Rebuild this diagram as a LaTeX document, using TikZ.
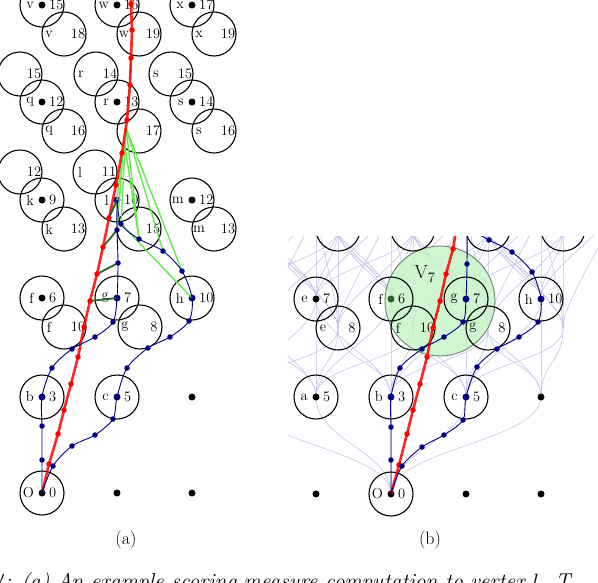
\documentclass[tikz,border=0pt]{standalone}
\usetikzlibrary{calc}
\definecolor{navy}{RGB}{0,0,128}
\definecolor{dkgreen}{RGB}{40,100,40}
\definecolor{ltgreen}{RGB}{100,235,80}
\definecolor{vfill}{RGB}{200,245,200}
\definecolor{vedge}{RGB}{110,130,110}
\definecolor{faint}{RGB}{195,195,235}
\tikzset{
 bigc/.style={circle,draw=black,line width=1.1pt,minimum size=44pt,inner sep=0pt},
 ctr/.style={circle,draw=none,inner sep=0pt,minimum size=7pt},
 lbl/.style={font=\fontsize{14.5}{14.5}\selectfont,inner sep=0pt,text=black},
 bd/.style={circle,fill=navy,inner sep=0pt,minimum size=5.5pt},
 rd/.style={circle,fill=red,inner sep=0pt,minimum size=5.5pt},
 bpath/.style={draw=navy,line width=0.9pt},
 rpath/.style={draw=red,line width=2.6pt,draw opacity=0.85},
 gpath/.style={draw=ltgreen,line width=1.4pt},
 dgpath/.style={draw=dkgreen,line width=1.8pt},
 faintl/.style={draw=faint,line width=0.6pt},
 paneltxt/.style={font=\fontsize{18}{18}\selectfont,inner sep=0pt}
}
\newcommand\vtx[6]{%
  \node[bigc] (#1C) at (#2,#3) {};
  \node[ctr,fill=#6] (#1) at (#2,#3) {};
  \node[lbl,anchor=east] (#1L) at ($(#1)+(-8,0)$) {#4};
  \node[lbl,anchor=west] (#1N) at ($(#1)+(7,0)$) {#5};
}
\newcommand\subc[5]{%
  \node[bigc] (#1) at (#2,#3) {};
  \node[lbl] (#1L) at ($(#1)+(-15,0)$) {#4};
  \node[lbl] (#1N) at ($(#1)+(14,0)$) {#5};
}
\begin{document}
\begin{tikzpicture}[x=1pt,y=-1pt]
\useasboundingbox (0,0) rectangle (598,582);

% ================= panel (a) =================
\vtx{aO}{42}{493}{O}{0}{black}
\node[ctr,fill=black] (aP1) at (117,493) {};
\node[ctr,fill=black] (aP2) at (192,493) {};
\vtx{ab}{42}{397}{b}{3}{navy}
\vtx{ac}{117}{397}{c}{5}{navy}
\node[ctr,fill=black] (aP3) at (192,397) {};
\vtx{af}{42}{298}{f}{6}{black}
\vtx{ag}{117}{298}{g}{7}{navy}
\vtx{ah}{192}{298}{h}{10}{navy}
\vtx{ak}{42}{200}{k}{9}{black}
\vtx{al}{117}{200}{l}{10}{navy}
\vtx{am}{192}{200}{m}{12}{black}
\vtx{aq}{42}{102}{q}{12}{black}
\vtx{ar}{117}{102}{r}{13}{black}
\vtx{as}{192}{102}{s}{14}{black}
\vtx{av}{42}{5}{v}{15}{black}
\vtx{aw}{117}{5}{w}{16}{black}
\vtx{ax}{192}{5}{x}{17}{black}
% down-right circles
\subc{afd}{64}{327}{f}{10}
\subc{agd}{140}{327}{g}{8}
\subc{akd}{64}{229}{k}{13}
\subc{ald}{139}{229}{}{15}
\subc{amd}{214}{229}{m}{13}
\subc{aqd}{64}{131}{q}{16}
\subc{ard}{139}{131}{}{17}
\subc{asd}{214}{131}{s}{16}
\subc{avd}{64}{34}{v}{18}
\subc{awd}{139}{34}{w}{19}
\subc{axd}{214}{34}{x}{19}
% up-left circles
\subc{aku}{20}{172}{}{12}
\subc{alu}{95}{172}{l}{11}
\subc{aqu}{20}{74}{}{15}
\subc{aru}{96}{74}{r}{14}
\subc{asu}{171}{74}{s}{15}

% red path points (a)
\coordinate (ar1) at (49,464);
\coordinate (ar2) at (58,434);
\coordinate (ar3) at (64,410);
\coordinate (ar4) at (71,384);
\coordinate (ar5) at (78,357);
\coordinate (ar6) at (84,327);
\coordinate (ar7) at (90,301);
\coordinate (ar8) at (97,274);
\coordinate (ar9) at (103,247);
\coordinate (ar10) at (109,218);
\coordinate (ar11) at (116,185);
\coordinate (ar12) at (122,153);
\coordinate (ar13) at (127,120);
\coordinate (ar14) at (130,85);
\coordinate (ar15) at (131,58);
\coordinate (ar16) at (132,30);
\coordinate (ar17) at (131,4);
\coordinate (arend) at (131,-6);
% blue path points (a)
\coordinate (p1a) at (42,460);
\coordinate (p1b) at (42,426);
\coordinate (p1c) at (52,368);
\coordinate (p1d) at (72,349);
\coordinate (p1e) at (95,337);
\coordinate (p1f) at (113,322);
\coordinate (p1g) at (118,263);
\coordinate (p1h) at (117,230);
\coordinate (p2a) at (53,466);
\coordinate (p2b) at (72,446);
\coordinate (p2c) at (95,435);
\coordinate (p2d) at (113,419);
\coordinate (p2e) at (127,368);
\coordinate (p2f) at (148,348);
\coordinate (p2g) at (170,337);
\coordinate (p2h) at (189,321);
\coordinate (p2i) at (182,271);
\coordinate (p2j) at (163,251);
\coordinate (p2k) at (139,239);
\coordinate (p2l) at (121,224);
\coordinate (gA) at (126,128);
\coordinate (gB) at (124,140);

% light green lines
\draw[gpath] (ar15) -- (ar13) -- (gA);
\draw[gpath] (gA) -- (p2k);
\draw[gpath] (gA) -- (p2j);
\draw[gpath] (gA) -- (p2i);
\draw[gpath] (gB) -- (p2k);
\draw[gpath] (gB) -- (al.center);
\draw[gpath] (gA) -- (p2l) -- (ah.center);
\draw[gpath] (gB) -- (p1h);

% red path
\draw[rpath] (aO.center) -- (ar1) -- (ar2) -- (ar3) -- (ar4) -- (ar5) -- (ar6) -- (ar7) -- (ar8) -- (ar9) -- (ar10) -- (ar11) -- (ar12) -- (ar13) -- (ar14) -- (ar15) -- (ar16) -- (ar17) -- (arend);

% dark green links
\draw[dgpath] (al.center) -- (ar10);
\draw[dgpath] (p1h) -- (ar9);
\draw[dgpath] (p1g) -- (ar8);
\draw[dgpath] (ag.center) -- (ar7);

% blue paths
\draw[bpath] plot[smooth,tension=0.5] coordinates {(aO.center) (p1a) (p1b) (ab.center) (p1c) (p1d) (p1e) (p1f) (ag.center) (p1g) (p1h) (al.center)};
\draw[bpath] plot[smooth,tension=0.5] coordinates {(aO.center) (p2a) (p2b) (p2c) (p2d) (ac.center) (p2e) (p2f) (p2g) (p2h) (ah.center) (p2i) (p2j) (p2k) (p2l) (al.center)};

% dots
\foreach \i in {1,...,17} \node[rd] (ardot\i) at (ar\i) {};
\foreach \c in {p1a,p1b,p1c,p1d,p1e,p1f,p1g,p1h,p2a,p2b,p2c,p2d,p2e,p2f,p2g,p2h,p2i,p2j,p2k,p2l}
  \node[bd] (d\c) at (\c) {};

\node[paneltxt] (capa) at (126,540) {(a)};

% ================= panel (b) =================
\begin{scope}
\clip (288,236) rectangle (598,530);
% faint web of all edges
\foreach \xa/\ya in {241/397,316/397,391/397,466/397,541/397}{
  \draw[faintl] (391,494) .. controls (391,450) and (\xa,441) .. (\xa,\ya);
}
\foreach \xa/\ya in {241/397,316/397,391/397,466/397,541/397}{
  \foreach \xb/\yb in {241/299,316/299,391/299,466/299,541/299,263/328,338/328,413/328,488/328,563/328}{
    \pgfmathtruncatemacro\ok{abs(\xa-\xb)<110}
    \ifnum\ok=1 \draw[faintl] (\xa,\ya) .. controls (\xa,\ya-35) and (\xb,\yb+35) .. (\xb,\yb);\fi
  }}
\foreach \xa/\ya in {241/299,316/299,391/299,466/299,541/299,263/328,338/328,413/328,488/328,563/328}{
  \foreach \xb/\yb in {241/200,316/200,391/200,466/200,541/200,616/200,263/229,338/229,413/229,488/229,563/229}{
    \pgfmathtruncatemacro\ok{abs(\xa-\xb)<110}
    \ifnum\ok=1 \draw[faintl] (\xa,\ya) .. controls (\xa,\ya-30) and (\xb,\yb+30) .. (\xb,\yb);\fi
  }}
% V7 region
\node[circle,fill=vfill,fill opacity=0.85,draw=vedge,line width=0.9pt,minimum size=110pt,inner sep=0pt] (V7) at (440,301) {};
\node[font=\fontsize{19}{19}\selectfont,inner sep=0pt] (V7L) at (425,274) {V$_7$};

\vtx{bO}{391}{494}{O}{0}{black}
\node[ctr,fill=black] (bP1) at (316,494) {};
\node[ctr,fill=black] (bP2) at (466,494) {};
\node[ctr,fill=black] (bP3) at (541,494) {};
\vtx{ba}{316}{397}{a}{5}{black}
\vtx{bb}{391}{397}{b}{3}{navy}
\vtx{bc}{466}{397}{c}{5}{navy}
\node[ctr,fill=black] (bP4) at (541,397) {};
\vtx{be}{316}{299}{e}{7}{black}
\vtx{bf}{391}{299}{f}{6}{dkgreen}
\vtx{bg}{466}{299}{g}{7}{navy}
\vtx{bh}{541}{299}{h}{10}{navy}
\subc{bed}{338}{328}{e}{8}
\subc{bfd}{413}{328}{f}{10}
\subc{bgd}{488}{328}{g}{8}
\node[bigc] (bt1) at (338,229) {};
\node[bigc] (bt2) at (413,229) {};
\node[bigc] (bt3) at (488,229) {};
\node[bigc] (bt4) at (563,229) {};

% paths (b)
\coordinate (br1) at (399,465);
\coordinate (br2) at (407,434);
\coordinate (br3) at (413,410);
\coordinate (br4) at (420,384);
\coordinate (br5) at (427,357);
\coordinate (br6) at (433,328);
\coordinate (br7) at (440,301);
\coordinate (br8) at (446,274);
\coordinate (br9) at (453,249);
\coordinate (brend) at (457,225);
\coordinate (q1a) at (391,460);
\coordinate (q1b) at (391,427);
\coordinate (q1c) at (400,368);
\coordinate (q1d) at (422,349);
\coordinate (q1e) at (444,337);
\coordinate (q1f) at (463,322);
\coordinate (q1g) at (467,264);
\coordinate (q1end) at (467,225);
\coordinate (q2a) at (402,466);
\coordinate (q2b) at (422,447);
\coordinate (q2c) at (444,435);
\coordinate (q2d) at (463,420);
\coordinate (q2e) at (477,367);
\coordinate (q2f) at (497,349);
\coordinate (q2g) at (519,337);
\coordinate (q2h) at (538,322);
\coordinate (q2i) at (532,272);
\coordinate (q2j) at (512,252);
\coordinate (q2k) at (489,240);
\coordinate (q2end) at (468,228);

\draw[rpath] (bO.center) -- (br1) -- (br2) -- (br3) -- (br4) -- (br5) -- (br6) -- (br7) -- (br8) -- (br9) -- (brend);
\draw[bpath] plot[smooth,tension=0.5] coordinates {(bO.center) (q1a) (q1b) (bb.center) (q1c) (q1d) (q1e) (q1f) (bg.center) (q1g) (q1end)};
\draw[bpath] plot[smooth,tension=0.5] coordinates {(bO.center) (q2a) (q2b) (q2c) (q2d) (bc.center) (q2e) (q2f) (q2g) (q2h) (bh.center) (q2i) (q2j) (q2k) (q2end)};
\foreach \i in {1,...,9} \node[rd] (brdot\i) at (br\i) {};
\foreach \c in {q1a,q1b,q1c,q1d,q1e,q1f,q1g,q2a,q2b,q2c,q2d,q2e,q2f,q2g,q2h,q2i,q2j,q2k}
  \node[bd] (d\c) at (\c) {};
\end{scope}

\node[paneltxt] (capb) at (430,540) {(b)};

% caption (cropped by the page edge)
\node[anchor=base west,inner sep=0pt,font=\fontsize{21.5}{21.5}\selectfont\itshape] (cap) at (-6,588) {4: (a) An example scoring measure computation to vertex $l$. T};
\end{tikzpicture}
\end{document}
